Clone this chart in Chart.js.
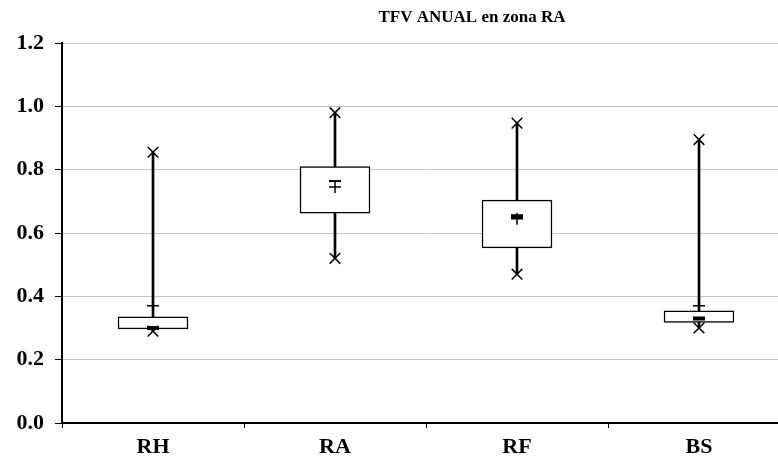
<!DOCTYPE html>
<html>
<head>
<meta charset="utf-8">
<script src="https://cdn.jsdelivr.net/npm/chart.js@4/dist/chart.umd.min.js"></script>
<style>
html,body{margin:0;padding:0;background:#fff;overflow:hidden;}
canvas{display:block;}
</style>
</head>
<body>
<canvas id="c" width="800" height="461" style="width:800px;height:461px"></canvas>
<script>
const chartTitle = "TFV ANUAL en zona RA";
const categories = ["RH", "RA", "RF", "BS"];
const minValues = [0.29, 0.52, 0.47, 0.30];
const q1Values = [0.297, 0.663, 0.553, 0.318];
const q3Values = [0.335, 0.81, 0.704, 0.354];
const maxValues = [0.855, 0.98, 0.947, 0.895];
const meanValues = [0.37, 0.745, 0.645, 0.37];
const medianValues = [0.30, 0.764, 0.653, 0.33];
const yTickValues = [0.0, 0.2, 0.4, 0.6, 0.8, 1.0, 1.2];

const FONT = "'Liberation Serif', 'Times New Roman', serif";

const boxData = categories.map((c, i) => [q1Values[i], q3Values[i]]);
const whiskerData = categories.map((c, i) => [minValues[i], maxValues[i]]);

const titlePlugin = {
  id: 'customTitle',
  afterDraw(chart) {
    const ctx = chart.ctx;
    ctx.save();
    ctx.font = "bold 17px " + FONT;
    ctx.fillStyle = '#000';
    ctx.textAlign = 'center';
    ctx.textBaseline = 'middle';
    ctx.fillText(chartTitle, 472, 18);
    ctx.restore();
  }
};

new Chart(document.getElementById('c'), {
  type: 'bar',
  data: {
    labels: categories,
    datasets: [
      {
        type: 'line', label: 'median', data: medianValues, showLine: false,
        pointStyle: 'line', pointRadius: 6, pointHoverRadius: 6,
        pointBorderWidth: [4, 2, 4, 4], borderColor: '#000', backgroundColor: '#000'
      },
      {
        type: 'line', label: 'mean', data: meanValues, showLine: false,
        pointStyle: 'cross', pointRadius: 6, pointHoverRadius: 6,
        pointBorderWidth: 1.5, borderColor: '#000', backgroundColor: '#000'
      },
      {
        type: 'line', label: 'max', data: maxValues, showLine: false,
        pointStyle: 'crossRot', pointRadius: 7.5, pointHoverRadius: 7.5,
        pointBorderWidth: 1.5, borderColor: '#000', backgroundColor: '#000'
      },
      {
        type: 'line', label: 'min', data: minValues, showLine: false,
        pointStyle: 'crossRot', pointRadius: 7.5, pointHoverRadius: 7.5,
        pointBorderWidth: 1.5, borderColor: '#000', backgroundColor: '#000'
      },
      {
        label: 'box', data: boxData, grouped: false, barThickness: 70,
        backgroundColor: '#fff', borderColor: '#000', borderWidth: 1.5, borderSkipped: false
      },
      {
        label: 'whisker', data: whiskerData, grouped: false, barThickness: 2,
        backgroundColor: '#000', borderWidth: 0
      }
    ]
  },
  options: {
    responsive: false,
    devicePixelRatio: 1,
    animation: false,
    layout: { padding: { top: 43, right: 9, left: 0, bottom: 0 } },
    plugins: { legend: { display: false }, tooltip: { enabled: false }, title: { display: false } },
    scales: {
      x: {
        offset: true,
        grid: { display: true, drawOnChartArea: false, offset: true, tickLength: 5, tickColor: '#000', tickWidth: 1 },
        border: { display: true, color: '#000', width: 2 },
        ticks: { color: '#000', font: { family: FONT, size: 22, weight: 'bold' }, padding: 6, maxRotation: 0 },
        afterFit(scale) { scale.height = 38; }
      },
      y: {
        min: 0, max: 1.2,
        afterBuildTicks(scale) { scale.ticks = yTickValues.map(v => ({ value: v })); },
        grid: { color: '#c4c4c4', lineWidth: 1, tickLength: 7, tickColor: '#000', tickWidth: 1 },
        border: { display: true, color: '#000', width: 2 },
        ticks: {
          color: '#000', font: { family: FONT, size: 22, weight: 'bold' }, padding: 11,
          callback: v => Number(v).toFixed(1)
        },
        afterFit(scale) { scale.width = 62; }
      }
    }
  },
  plugins: [titlePlugin]
});
</script>
</body>
</html>
